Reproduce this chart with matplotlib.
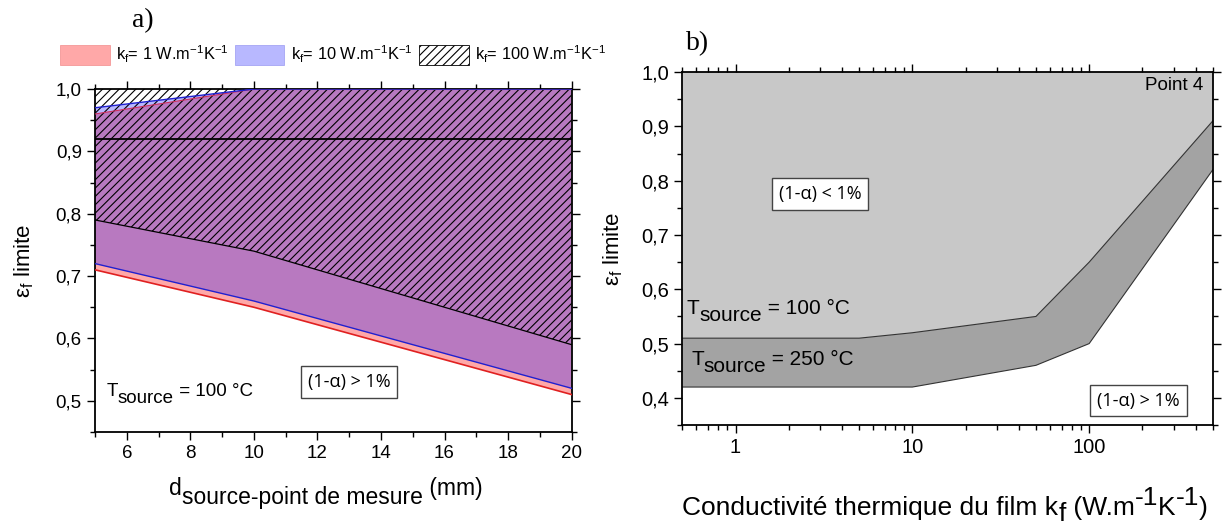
import matplotlib
matplotlib.use("Agg")
import matplotlib.pyplot as plt
import numpy as np
from matplotlib.ticker import FuncFormatter, MultipleLocator, LogLocator, NullFormatter, FixedLocator
from matplotlib.patches import Patch

plt.rcParams['font.family'] = ['Liberation Sans', 'DejaVu Sans']
plt.rcParams['mathtext.fontset'] = 'custom'
plt.rcParams['mathtext.rm'] = 'Liberation Sans'
plt.rcParams['mathtext.it'] = 'Liberation Sans'
plt.rcParams['hatch.linewidth'] = 0.8

# ---------- Panel a data ----------
d_mm = [5, 10, 15, 20]
k1_low = [0.71, 0.65, 0.58, 0.51]
k1_up = [0.96, 1.0, 1.0, 1.0]
k10_low = [0.72, 0.66, 0.59, 0.52]
k10_up = [0.97, 1.0, 1.0, 1.0]
k100_low = [0.79, 0.74, 0.665, 0.59]
k100_up = [1.0, 1.0, 1.0, 1.0]
ref_line = 0.92
legend_labels = [r'k$_\mathregular{f}$= 1 W.m$^\mathregular{-1}$K$^\mathregular{-1}$',
                 r'k$_\mathregular{f}$= 10 W.m$^\mathregular{-1}$K$^\mathregular{-1}$',
                 r'k$_\mathregular{f}$= 100 W.m$^\mathregular{-1}$K$^\mathregular{-1}$']

# ---------- Panel b data ----------
kf = [0.5, 5, 10, 50, 100, 500]
t100_low = [0.51, 0.51, 0.52, 0.55, 0.65, 0.91]
t250_low = [0.42, 0.42, 0.42, 0.46, 0.50, 0.82]

comma = FuncFormatter(lambda v, p: f"{v:.1f}".replace('.', ','))

fig = plt.figure(figsize=(12.25, 5.3), dpi=100)
axa = fig.add_axes([0.0776, 0.185, 0.389, 0.647])
axb = fig.add_axes([0.557, 0.198, 0.433, 0.666])


def chain(ax, x, y, pieces, fontsize, transform=None, **kw):
    """Draw text pieces side by side; each piece = (text, dy_points)."""
    first_txt, dy0 = pieces[0]
    prev = ax.text(x, y, first_txt, fontsize=fontsize, va='baseline',
                   transform=transform if transform is not None else ax.transData, **kw)
    prev_dy = dy0
    for txt, dy in pieces[1:]:
        prev = ax.annotate(txt, xy=(1, 0), xycoords=prev, xytext=(0, dy - prev_dy),
                           textcoords='offset points', va='bottom', ha='left',
                           fontsize=fontsize, **kw)
        prev_dy = dy
    return prev


red_c = (1.0, 0.0, 0.0, 0.34)
blue_c = (0.0, 0.0, 1.0, 0.28)

axa.fill_between(d_mm, k1_low, k1_up, facecolor=red_c, edgecolor='none', zorder=1)
axa.fill_between(d_mm, k10_low, k10_up, facecolor=blue_c, edgecolor='none', zorder=2)
axa.fill_between(d_mm, k100_low, k100_up, facecolor='none', edgecolor='black',
                 hatch='////', linewidth=0, zorder=3)
axa.plot(d_mm, k1_low, color='#e02020', lw=1.2, zorder=4)
axa.plot(d_mm, k1_up, color='#d03060', lw=0.8, zorder=4)
axa.plot(d_mm, k10_low, color='#2020d0', lw=1.0, zorder=5)
axa.plot(d_mm, k10_up, color='#2020d0', lw=1.0, zorder=5)
axa.plot(d_mm, k100_low, color='black', lw=0.9, zorder=6)
axa.axhline(ref_line, color='black', lw=1.3, zorder=6)

axa.set_xlim(5, 20)
axa.set_ylim(0.45, 1.0)
axa.xaxis.set_major_locator(FixedLocator([6, 8, 10, 12, 14, 16, 18, 20]))
axa.xaxis.set_minor_locator(MultipleLocator(1))
axa.yaxis.set_major_locator(FixedLocator([0.5, 0.6, 0.7, 0.8, 0.9, 1.0]))
axa.yaxis.set_minor_locator(MultipleLocator(0.05))
axa.yaxis.set_major_formatter(comma)

for ax in (axa, axb):
    ax.tick_params(which='both', direction='out', top=True, right=True,
                   labeltop=False, labelright=False, labelsize=13.5, width=1.0)
    ax.tick_params(which='major', length=6)
    ax.tick_params(which='minor', length=3.5)
    for s in ax.spines.values():
        s.set_linewidth(1.3)

# x label of panel a (same-size subscript as in the original)
chain(axa, 0.155, -0.185, [('d', 0), ('source-point de mesure', -6), (' (mm)', 0)],
      16.5, transform=axa.transAxes)
axa.set_ylabel(r'$\mathregular{\varepsilon_f}$ limite', fontsize=16, labelpad=14)

chain(axa, 5.35, 0.507, [('T', 0), ('source', -5), (' = 100 °C', 0)], 13.5)
axa.text(13.0, 0.530, '(1-α) > 1%', fontsize=13, va='center', ha='center',
         family=['Open Sans', 'DejaVu Sans'],
         bbox=dict(facecolor='white', edgecolor='#444444', lw=1, pad=5))

handles = [Patch(facecolor=(1, 0.66, 0.66), edgecolor=(0.95, 0.55, 0.55), lw=0.5),
           Patch(facecolor=(0.72, 0.72, 1.0), edgecolor=(0.6, 0.6, 0.95), lw=0.5),
           Patch(facecolor='white', edgecolor='black', hatch='////', lw=0.6)]
fig.legend(handles, legend_labels, loc='center', bbox_to_anchor=(0.272, 0.897),
           ncol=3, frameon=False, fontsize=11.8, handlelength=3.0, handleheight=1.5,
           columnspacing=0.4, handletextpad=0.4, borderaxespad=0)

fig.text(0.108, 0.962, 'a)', fontsize=20, family=['Liberation Serif', 'DejaVu Serif'], va='center')
fig.text(0.560, 0.918, 'b)', fontsize=20, family=['Liberation Serif', 'DejaVu Serif'], va='center')

# ---------- Panel b ----------
axb.fill_between(kf, t100_low, 1.0, facecolor='#c8c8c8', edgecolor='none', zorder=1)
axb.fill_between(kf, t250_low, t100_low, facecolor='#a3a3a3', edgecolor='none', zorder=1)
axb.plot(kf, t100_low, color='#333333', lw=0.8, zorder=2)
axb.plot(kf, t250_low, color='#333333', lw=0.8, zorder=2)
axb.set_xscale('log')
axb.set_xlim(0.5, 500)
axb.set_ylim(0.35, 1.0)
axb.xaxis.set_major_locator(FixedLocator([1, 10, 100]))
axb.xaxis.set_major_formatter(FuncFormatter(lambda v, p: f"{v:g}"))
axb.xaxis.set_minor_locator(LogLocator(base=10, subs=np.arange(2, 10), numticks=20))
axb.xaxis.set_minor_formatter(NullFormatter())
axb.yaxis.set_major_locator(FixedLocator([0.4, 0.5, 0.6, 0.7, 0.8, 0.9, 1.0]))
axb.yaxis.set_minor_locator(MultipleLocator(0.05))
axb.yaxis.set_major_formatter(comma)
axb.tick_params(which='both', labelsize=14.5)

chain(axb, 0.0, -0.255, [('Conductivité thermique du film k', 0), ('f', -4),
                          (' (W.m', 0), ('-1', 7), ('K', 0), ('-1', 7), (')', 0)],
      19, transform=axb.transAxes)
axb.set_ylabel(r'$\mathregular{\varepsilon_f}$ limite', fontsize=16, labelpad=12)

axb.text(440, 0.975, 'Point 4', fontsize=13.5, ha='right', va='center')
axb.text(3.0, 0.775, '(1-α) < 1%', fontsize=13, ha='center', va='center',
         family=['Open Sans', 'DejaVu Sans'],
         bbox=dict(facecolor='white', edgecolor='#444444', lw=1, pad=5))
chain(axb, 0.53, 0.555, [('T', 0), ('source', -5), (' = 100 °C', 0)], 15)
chain(axb, 0.56, 0.46, [('T', 0), ('source', -5), (' = 250 °C', 0)], 15)
axb.text(190, 0.395, '(1-α) > 1%', fontsize=13, ha='center', va='center',
         family=['Open Sans', 'DejaVu Sans'],
         bbox=dict(facecolor='white', edgecolor='#444444', lw=1, pad=5))

fig.savefig('out.png', dpi=100)
